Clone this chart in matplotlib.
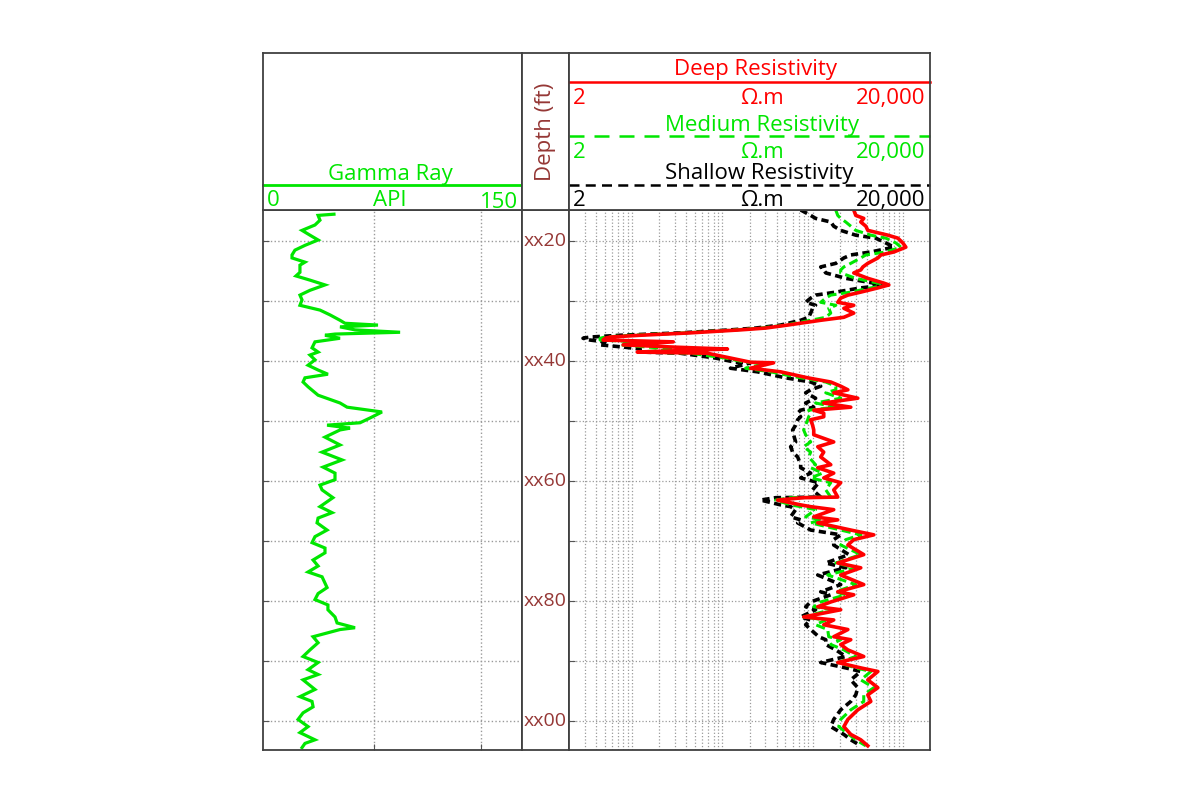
import matplotlib
matplotlib.use('Agg')
import matplotlib.pyplot as plt

plt.rcParams['font.family'] = ['Open Sans', 'DejaVu Sans']

GREEN = '#00e600'
RED = '#ff0000'
DEPTH_RED = '#953735'
FRAME = '#404040'
GRID = '#9a9a9a'

# gamma ray log (API) against depth (ft)
gr_depth = [1015.5, 1015.7, 1016.5, 1017.3, 1018.2, 1019.0, 1019.8, 1020.7, 1021.5, 1022.3,
            1022.8, 1023.5, 1024.0, 1025.2, 1025.8, 1026.5, 1027.3, 1028.2, 1029.0, 1029.8,
            1030.7, 1031.5, 1032.3, 1033.2, 1033.7, 1034.0, 1034.3, 1034.8, 1035.2, 1035.5,
            1035.7, 1036.2, 1036.8, 1037.8, 1038.5, 1039.0, 1039.8, 1040.7, 1041.5, 1042.2,
            1042.8, 1043.5, 1044.3, 1045.7, 1047.0, 1047.7, 1048.5, 1049.5, 1050.3, 1050.7,
            1051.2, 1051.5, 1052.7, 1054.0, 1055.2, 1056.5, 1057.7, 1058.7, 1059.8, 1060.7,
            1061.5, 1062.8, 1064.3, 1065.3, 1066.2, 1067.0, 1068.2, 1069.3, 1070.3, 1071.2,
            1072.0, 1073.2, 1074.2, 1075.2, 1076.0, 1077.8, 1078.8, 1079.8, 1080.7, 1081.5,
            1082.7, 1083.7, 1084.5, 1084.8, 1086.0, 1087.0, 1088.2, 1089.3, 1090.3, 1091.5,
            1092.3, 1093.2, 1094.8, 1096.0, 1096.8, 1097.7, 1098.7, 1099.8, 1101.0, 1102.0,
            1103.2, 1103.8, 1104.5]
gr_api = [41.1, 31.9, 33.0, 30.1, 22.6, 27.2, 31.9, 24.3, 18.5, 16.8,
          16.8, 24.3, 21.4, 21.4, 19.1, 27.2, 35.9, 27.2, 21.4, 22.6,
          21.4, 33.0, 38.8, 44.6, 47.5, 66.6, 44.6, 53.3, 79.4, 41.7,
          35.9, 44.6, 30.1, 28.4, 31.9, 27.2, 30.1, 26.1, 31.9, 37.6,
          24.3, 23.2, 26.1, 31.9, 44.6, 48.7, 68.9, 62.0, 56.2, 37.1,
          50.4, 44.6, 35.9, 44.6, 34.2, 45.8, 34.8, 41.7, 41.7, 33.0,
          34.2, 40.5, 33.0, 40.0, 31.9, 31.3, 37.1, 30.1, 28.4, 35.9,
          35.9, 29.0, 31.9, 26.1, 34.2, 37.1, 31.9, 30.1, 37.6, 37.6,
          41.7, 42.9, 53.3, 44.6, 29.0, 31.9, 27.2, 23.2, 31.9, 26.1,
          31.9, 23.2, 30.1, 21.4, 28.4, 29.0, 23.2, 20.3, 26.1, 21.4,
          30.1, 24.3, 22.6]

# resistivity logs (ohm.m) against depth (ft)
res_depth = [1014.8, 1015.7, 1016.2, 1016.8, 1017.5, 1018.2, 1019.0, 1019.5, 1020.3, 1021.0,
             1021.8, 1022.3, 1022.8, 1023.7, 1024.3, 1024.8, 1025.3, 1026.2, 1027.0, 1027.3,
             1027.8, 1028.5, 1029.0, 1029.5, 1030.2, 1030.7, 1031.2, 1032.0, 1032.7, 1033.2,
             1034.0, 1034.5, 1034.8, 1035.3, 1035.7, 1036.0, 1036.2, 1036.5, 1036.8, 1037.3,
             1037.7, 1038.0, 1038.5, 1038.7, 1039.5, 1040.2, 1040.3, 1041.2, 1041.8, 1042.8,
             1043.5, 1044.2, 1044.8, 1045.3, 1046.2, 1047.0, 1047.7, 1048.2, 1048.7, 1049.3,
             1049.8, 1050.7, 1051.5, 1052.3, 1053.5, 1054.3, 1055.2, 1056.0, 1057.3, 1057.8,
             1058.7, 1059.5, 1060.3, 1061.5, 1062.7, 1062.8, 1063.2, 1064.0, 1064.3, 1064.8,
             1066.0, 1066.5, 1067.0, 1068.2, 1069.0, 1069.8, 1070.7, 1072.3, 1073.7, 1074.5,
             1075.7, 1077.3, 1078.5, 1079.0, 1080.2, 1081.0, 1081.5, 1082.7, 1083.2, 1084.0,
             1084.8, 1086.0, 1086.5, 1087.3, 1088.2, 1089.3, 1090.3, 1091.2, 1091.8, 1093.2,
             1094.5, 1095.7, 1096.8, 1098.2, 1099.8, 1101.0, 1102.3, 1103.2, 1104.2]
deep_res = [2860, 3010, 3690, 3420, 3890, 4090, 6830, 8820, 10000, 10800,
            7960, 5710, 5290, 4090, 3610, 3420, 2860, 4090, 6160, 7000,
            5290, 3420, 2460, 2050, 1900, 2860, 2220, 2860, 2220, 1230,
            529, 301, 159, 44.2, 12.3, 5.71, 5.02, 4.77, 28.6, 7.96,
            31.7, 114, 11.4, 68.3, 123, 205, 370, 205, 442, 882,
            1590, 2050, 2460, 1715, 3170, 1330, 2650, 1030, 1330, 1330,
            953, 1000, 1030, 1030, 1715, 1140, 1330, 1230, 1590, 1140,
            1715, 1330, 2050, 1715, 1900, 796, 409, 738, 953, 1715,
            1030, 1900, 1140, 2650, 4770, 2860, 2460, 3690, 1900, 3420,
            2050, 3690, 1900, 2860, 1590, 1140, 2050, 796, 1715, 1330,
            2460, 1715, 2650, 2050, 2460, 3690, 1900, 3420, 5290, 4090,
            5290, 4090, 4420, 3170, 2460, 2220, 2650, 3420, 4090]
medium_res = [1806, 1900, 2050, 2330, 2650, 3010, 4420, 6490, 8380, 9520,
              6490, 3890, 3420, 2650, 2220, 2050, 2050, 3010, 5290, 6830,
              4420, 2650, 1590, 1400, 1230, 1810, 1510, 1590, 1400, 953,
              502, 265, 140, 38.9, 9.52, 5.02, 4.42, 4.42, 12.3, 7.38,
              15.9, 34.2, 12.3, 44.2, 108, 181, 325, 181, 342, 738,
              1400, 1810, 1810, 1400, 2050, 1080, 1810, 905, 953, 905,
              882, 838, 796, 838, 953, 796, 953, 905, 1080, 953,
              1290, 953, 1590, 1400, 1590, 571, 389, 571, 738, 1080,
              838, 1290, 953, 2050, 3420, 2330, 2050, 3420, 1810, 3010,
              1470, 3010, 1810, 2330, 1230, 1030, 1590, 796, 1400, 1080,
              1470, 1510, 2050, 1590, 2220, 3010, 1900, 3010, 4420, 3420,
              4770, 3690, 3690, 2650, 2050, 1950, 2520, 3010, 3890]
shallow_res = [738, 953, 1080, 1590, 1715, 2050, 3010, 5020, 6490, 7960,
               4420, 2650, 2220, 1810, 1230, 1330, 1400, 2330, 4770, 6490,
               3420, 1810, 1080, 953, 838, 1080, 1000, 953, 905, 738,
               442, 233, 123, 34.2, 7.38, 3.42, 2.86, 3.42, 5.02, 4.42,
               8.38, 12.3, 12.3, 34.2, 83.8, 140, 205, 123, 245, 502,
               953, 1230, 953, 838, 1080, 838, 1030, 738, 683, 738,
               683, 649, 601, 616, 649, 571, 601, 683, 738, 738,
               953, 738, 1170, 1000, 1230, 389, 265, 442, 571, 649,
               571, 738, 683, 953, 2050, 1715, 1715, 2520, 1400, 2330,
               1140, 2050, 1230, 1590, 953, 838, 1080, 738, 953, 838,
               953, 1170, 1400, 1400, 1810, 2330, 1230, 2330, 3420, 2650,
               3170, 3010, 2650, 2050, 1715, 1590, 2220, 2650, 3420]

depth_ticks = [1020, 1040, 1060, 1080, 1100]
depth_labels = ['xx20', 'xx40', 'xx60', 'xx80', 'xx00']
depth_grid = [1020, 1030, 1040, 1050, 1060, 1070, 1080, 1090, 1100]
gr_grid = [64, 126]
res_grid = [3, 4, 5, 6, 7, 8, 9, 10, 20, 30, 40, 50, 60, 70, 80, 90,
            100, 200, 300, 400, 500, 600, 700, 800, 900,
            1000, 2000, 3000, 4000, 5000, 6000, 7000, 8000, 9000, 10000]
top_depth, bottom_depth = 1014.8, 1104.9

fig = plt.figure(figsize=(12, 8), dpi=100)


def box(x0, y0, x1, y1):
    # pixel box -> figure fraction
    return [x0 / 1200, 1 - y1 / 800, (x1 - x0) / 1200, (y1 - y0) / 800]


def frame(ax):
    for s in ax.spines.values():
        s.set_color(FRAME)
        s.set_linewidth(1.3)


ax_gr = fig.add_axes(box(263, 210, 522, 750))
ax_dp = fig.add_axes(box(522, 210, 569, 750))
ax_rs = fig.add_axes(box(569, 210, 930, 750))
h_gr = fig.add_axes(box(263, 53, 522, 210))
h_dp = fig.add_axes(box(522, 53, 569, 210))
h_rs = fig.add_axes(box(569, 53, 930, 210))

for ax in (ax_gr, ax_dp, ax_rs, h_gr, h_dp, h_rs):
    frame(ax)

for ax in (h_gr, h_dp, h_rs, ax_dp):
    ax.set_xticks([])
    ax.set_yticks([])

# gamma ray track
ax_gr.plot(gr_api, gr_depth, color=GREEN, lw=2.3, solid_joinstyle='miter')
ax_gr.set_xlim(0, 150)
ax_gr.set_ylim(bottom_depth, top_depth)
ax_gr.set_xticks(gr_grid)
ax_gr.set_yticks(depth_grid)
ax_gr.grid(True, ls=':', color=GRID, lw=1)
ax_gr.tick_params(direction='in', length=4, color='#555555',
                  labelleft=False, labelbottom=False)

# depth track
ax_dp.set_ylim(bottom_depth, top_depth)
ax_dp.set_xlim(0, 1)
for d, lab in zip(depth_ticks, depth_labels):
    ax_dp.text(0.5, d, lab, ha='center', va='center', color=DEPTH_RED, fontsize=14)

# resistivity track
ax_rs.plot(shallow_res, res_depth, color='black', lw=2.6, ls=(0, (2, 1.2)))
ax_rs.plot(medium_res, res_depth, color=GREEN, lw=2.2, ls=(0, (3, 1.5)))
ax_rs.plot(deep_res, res_depth, color=RED, lw=2.6)
ax_rs.set_xscale('log')
ax_rs.set_xlim(2, 20000)
ax_rs.set_ylim(bottom_depth, top_depth)
ax_rs.set_xticks(res_grid)
ax_rs.xaxis.set_minor_locator(plt.NullLocator())
ax_rs.set_yticks(depth_grid)
ax_rs.grid(True, ls=':', color=GRID, lw=0.9)
ax_rs.tick_params(axis='y', direction='in', length=4, color='#555555', labelleft=False)
ax_rs.tick_params(axis='x', length=0, labelbottom=False)

# headers
fs = 16
t = h_gr.transAxes
h_gr.text(0.49, 0.19, 'Gamma Ray', color=GREEN, fontsize=fs, ha='center', va='baseline', transform=t)
h_gr.plot([0, 1], [0.159, 0.159], color=GREEN, lw=2, transform=t, clip_on=False)
h_gr.text(0.015, 0.025, '0', color=GREEN, fontsize=fs, ha='left', va='baseline', transform=t)
h_gr.text(0.49, 0.025, 'API', color=GREEN, fontsize=fs, ha='center', va='baseline', transform=t)
h_gr.text(0.985, 0.015, '150', color=GREEN, fontsize=fs, ha='right', va='baseline', transform=t)

h_dp.text(0.5, 0.5, 'Depth (ft)', color=DEPTH_RED, fontsize=fs, rotation=90,
          ha='center', va='center', transform=h_dp.transAxes)

t = h_rs.transAxes
rows = [
    ('Deep Resistivity', RED, 0.86, 0.815, '-', 0.518, 0.675),
    ('Medium Resistivity', GREEN, 0.503, 0.471, (0, (6, 4)), 0.535, 0.333),
    ('Shallow Resistivity', 'black', 0.197, 0.159, (0, (4, 2.5)), 0.526, 0.025),
]
for name, col, ty, ly, ls, cx, vy in rows:
    h_rs.text(cx, ty, name, color=col, fontsize=fs, ha='center', va='baseline', transform=t)
    h_rs.plot([0, 1], [ly, ly], color=col, lw=1.8, ls=ls, transform=t, clip_on=False)
    h_rs.text(0.011, vy, '2', color=col, fontsize=fs, ha='left', va='baseline', transform=t)
    h_rs.text(0.535, vy, 'Ω.m', color=col, fontsize=fs, ha='center', va='baseline', transform=t)
    h_rs.text(0.988, vy, '20,000', color=col, fontsize=fs, ha='right', va='baseline', transform=t)

fig.savefig('out.png', dpi=100)
